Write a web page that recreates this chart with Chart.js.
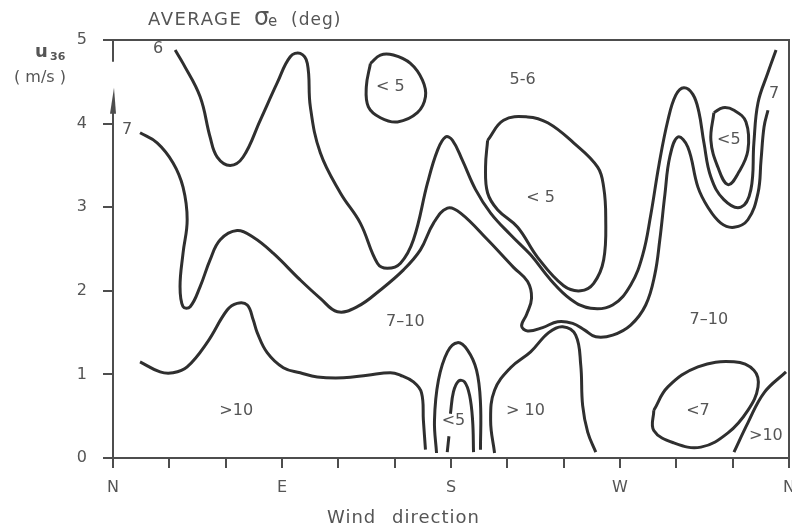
<!DOCTYPE html>
<html>
<head>
<meta charset="utf-8">
<script src="https://cdn.jsdelivr.net/npm/chart.js@4.4.0/dist/chart.umd.min.js"></script>
<style>
  html, body { margin: 0; padding: 0; background: #fff; }
  #wrap { width: 792px; height: 528px; }
</style>
</head>
<body>
<div id="wrap"><canvas id="chart"></canvas></div>
<script>
// Contour lines of average sigma-e, points are [wind direction (deg), u36 (m/s)]
const line6 = [[33.1,4.88],[37.3,4.72],[46.4,4.32],[51.7,3.84],[55.5,3.60],[62.4,3.50],[69.3,3.60],[78.4,4.04],
  [87.5,4.49],[94.4,4.80],[99.7,4.84],[103.5,4.72],[105.1,4.20],[110.4,3.65],[121.1,3.17],[131.7,2.81],
  [140.8,2.33],[146.1,2.27],[153.1,2.33],[160.0,2.61],[167.5,3.29],[172.8,3.68],[177.1,3.84],[180.8,3.80],
  [186.1,3.56],[193.1,3.21],[201.1,2.93],[211.7,2.67],[222.4,2.43],[233.1,2.13],[243.7,1.90],[254.4,1.79],
  [266.1,1.83],[275.7,2.07],[282.1,2.43],[286.4,2.91],[290.7,3.50],[295.5,4.04],[299.7,4.34],[304.0,4.43],
  [308.8,4.35],[312.0,4.14],[314.7,3.77],[318.4,3.36],[325.3,3.09],[334.4,3.00],[339.7,3.21],[341.3,3.77],
  [343.5,4.25],[348.8,4.61],[353.1,4.88]];
const line7 = [[14.4,3.89],[23.5,3.77],[32.0,3.53],[37.3,3.24],[39.5,2.85],[37.3,2.45],[35.7,2.05],[37.3,1.81],
  [41.1,1.81],[46.4,2.05],[51.7,2.37],[57.1,2.61],[66.1,2.72],[74.7,2.64],[85.3,2.45],[99.7,2.13],[110.4,1.91],
  [119.5,1.75],[130.1,1.81],[142.4,2.01],[154.7,2.25],[163.7,2.49],[170.7,2.81],[178.1,2.99],[185.1,2.93],
  [199.5,2.61],[213.3,2.28],[220.8,2.11],[222.9,1.91],[220.3,1.72],[217.6,1.58],[220.8,1.52],[228.8,1.56],
  [236.8,1.63],[244.8,1.61],[251.2,1.53],[257.1,1.45],[266.1,1.47],[275.7,1.59],[283.7,1.83],[288.5,2.19],
  [291.2,2.61],[293.9,3.15],[296.5,3.60],[300.8,3.84],[306.1,3.72],[311.5,3.24],[316.8,3.00],[323.7,2.81],
  [330.7,2.76],[338.1,2.85],[343.5,3.17],[345.1,3.56],[346.7,3.96],[348.8,4.16]];
const line10West = [[14.4,1.15],[25.1,1.03],[32.0,1.02],[39.5,1.09],[50.1,1.38],[60.8,1.77],[66.1,1.85],
  [71.5,1.83],[74.7,1.65],[76.8,1.50],[82.1,1.26],[90.7,1.08],[99.7,1.02],[108.8,0.97],[122.7,0.96],
  [135.5,0.99],[147.7,1.02],[153.1,0.99],[160.0,0.91],[164.3,0.78],[165.3,0.45],[166.4,0.10]];
const archSouthOuter = [[172.3,0.06],[171.2,0.45],[173.3,0.93],[178.1,1.27],[183.5,1.38],[188.8,1.29],
  [193.6,1.05],[195.7,0.66],[195.7,0.10]];
const archSouthInner = [[179.7,0.53],[181.3,0.79],[184.0,0.92],[187.2,0.91],[189.9,0.75],[191.5,0.45],[192.0,0.07]];
const dashSouth = [[178.9,0.26],[178.0,0.07]];
const line10South = [[203.2,0.06],[201.1,0.45],[203.2,0.81],[211.7,1.08],[222.4,1.27],[232.0,1.50],
  [239.5,1.57],[246.4,1.47],[249.1,1.11],[250.1,0.63],[252.8,0.31],[257.1,0.07]];
const line10North = [[330.7,0.07],[338.1,0.42],[346.7,0.78],[358.4,1.03]];
// closed loops
const loopLt7 = [[288.0,0.57],[295.5,0.85],[311.5,1.09],[330.7,1.15],[341.3,1.05],[343.5,0.85],[338.1,0.57],
  [327.5,0.30],[313.1,0.13],[298.7,0.18],[288.0,0.33]];
const loopLt5Top = [[137.1,4.72],[142.4,4.82],[149.3,4.82],[158.4,4.72],[164.8,4.52],[166.4,4.32],
  [162.1,4.13],[151.5,4.02],[142.4,4.07],[136.0,4.20],[134.9,4.44]];
const loopLt5Mid = [[199.5,3.80],[208.0,4.04],[220.8,4.08],[231.5,4.01],[245.3,3.77],[258.1,3.48],[261.3,3.24],
  [262.4,2.88],[261.3,2.37],[256.0,2.09],[249.0,2.00],[240.0,2.06],[226.1,2.40],[215.5,2.76],[204.8,2.97],
  [199.5,3.17],[198.4,3.48]];
const loopLt5West = [[320.0,4.13],[324.8,4.19],[330.7,4.16],[337.1,4.02],[338.1,3.68],[333.3,3.42],
  [327.5,3.27],[322.1,3.48],[318.4,3.80]];

// region labels
const regionText  = ['6', '7', '< 5', '5-6', '< 5', '7–10', '7–10', '>10', '<5', '> 10', '<7', '>10', '7', '<5'];
const regionDir   = [24.0, 7.5, 147.7, 218.1, 227.7, 155.7, 317.3, 65.6, 181.3, 219.7, 311.5, 347.7, 352.0, 328.0];
const regionSpeed = [4.90, 3.92, 4.44, 4.52, 3.11, 1.63, 1.65, 0.57, 0.44, 0.57, 0.57, 0.26, 4.35, 3.80];

// axis ticks
const compassTicks = { 0: 'N', 90: 'E', 180: 'S', 270: 'W', 360: 'N' };
const axisGap = [4.74, 4.43];   // break in the speed axis, arrow tip at the lower value

const INK = '#2f2f2f';
const AXIS = '#4d4d4d';
const TEXT = '#555';
const FONT = '"DejaVu Sans", sans-serif';

function closeLoop(pts) {
  return pts.concat([pts[0]]);
}

function toXY(pts) {
  return pts.map(p => ({ x: p[0], y: p[1] }));
}

const contours = [line6, line7, line10West, archSouthOuter, archSouthInner, dashSouth, line10South, line10North,
  closeLoop(loopLt7), closeLoop(loopLt5Top), closeLoop(loopLt5Mid), closeLoop(loopLt5West)];

const datasets = contours.map(pts => ({
  data: toXY(pts),
  showLine: true,
  borderColor: INK,
  borderWidth: 3,
  pointRadius: 0,
  pointHoverRadius: 0,
  tension: 0.4,
  fill: false
}));

const decor = {
  id: 'decor',
  afterDraw(chart) {
    const ctx = chart.ctx;
    const a = chart.chartArea;
    const x = chart.scales.x, y = chart.scales.y;
    ctx.save();

    // frame: top, right and the broken left axis
    ctx.strokeStyle = AXIS;
    ctx.lineWidth = 2;
    ctx.beginPath();
    ctx.moveTo(a.left - 7, a.top);
    ctx.lineTo(a.right, a.top);
    ctx.lineTo(a.right, a.bottom);
    ctx.moveTo(a.left, a.top);
    ctx.lineTo(a.left, y.getPixelForValue(axisGap[0]));
    ctx.moveTo(a.left, y.getPixelForValue(axisGap[1]) + 20);
    ctx.lineTo(a.left, a.bottom);
    ctx.stroke();

    // arrow head
    const tip = y.getPixelForValue(axisGap[1]);
    ctx.fillStyle = AXIS;
    ctx.beginPath();
    ctx.moveTo(a.left + 1, tip);
    ctx.lineTo(a.left + 3, tip + 26);
    ctx.lineTo(a.left - 3, tip + 26);
    ctx.closePath();
    ctx.fill();

    // region labels
    ctx.fillStyle = TEXT;
    ctx.font = '16px ' + FONT;
    ctx.textAlign = 'center';
    ctx.textBaseline = 'middle';
    regionText.forEach((t, i) => {
      ctx.fillText(t, x.getPixelForValue(regionDir[i]), y.getPixelForValue(regionSpeed[i]));
    });

    // title
    ctx.textAlign = 'left';
    ctx.textBaseline = 'alphabetic';
    ctx.letterSpacing = '1.5px';
    ctx.font = '18px ' + FONT;
    ctx.fillText('AVERAGE', 148, 25);
    ctx.letterSpacing = '0px';
    ctx.font = '24px ' + FONT;
    ctx.fillText('σ', 254, 25);
    ctx.font = '15px ' + FONT;
    ctx.fillText('e', 268, 26);
    ctx.letterSpacing = '1px';
    ctx.font = '17px ' + FONT;
    ctx.fillText('(deg)', 291, 25);

    // speed axis title
    ctx.letterSpacing = '0px';
    ctx.font = 'bold 18px ' + FONT;
    ctx.fillText('u', 35, 57);
    ctx.font = 'bold 11px ' + FONT;
    ctx.fillText('36', 50, 60);
    ctx.font = '16px ' + FONT;
    ctx.textAlign = 'right';
    ctx.fillText('( m/s )', 66, 82);

    // direction axis title
    ctx.textAlign = 'left';
    ctx.letterSpacing = '1px';
    ctx.font = '18px ' + FONT;
    ctx.fillText('Wind', 327, 523);
    ctx.fillText('direction', 392, 523);

    ctx.restore();
  }
};

new Chart(document.getElementById('chart'), {
  type: 'scatter',
  data: { datasets: datasets },
  options: {
    responsive: true,
    maintainAspectRatio: false,
    animation: false,
    events: [],
    layout: { padding: { left: 0, top: 40, right: 3, bottom: 0 } },
    plugins: {
      legend: { display: false },
      tooltip: { enabled: false },
      title: { display: false }
    },
    scales: {
      x: {
        type: 'linear',
        min: 0,
        max: 360,
        afterFit: s => { s.height = 70; s.paddingLeft = 0; s.paddingRight = 0; },
        afterBuildTicks: s => { s.ticks = [0, 30, 60, 90, 120, 150, 180, 210, 240, 270, 300, 330, 360].map(v => ({ value: v })); },
        border: { display: true, color: AXIS, width: 2 },
        grid: { drawOnChartArea: false, color: AXIS, lineWidth: 2, tickLength: 10 },
        ticks: {
          autoSkip: false,
          maxRotation: 0,
          padding: 10,
          color: TEXT,
          font: { family: FONT, size: 16 },
          callback: v => compassTicks[v] || ''
        }
      },
      y: {
        type: 'linear',
        min: 0,
        max: 5,
        afterFit: s => { s.width = 113; s.paddingTop = 0; s.paddingBottom = 0; },
        border: { display: false },
        grid: { drawOnChartArea: false, color: AXIS, lineWidth: 2, tickLength: 10 },
        ticks: {
          stepSize: 1,
          padding: 16,
          color: TEXT,
          font: { family: FONT, size: 16 }
        }
      }
    }
  },
  plugins: [decor]
});
</script>
</body>
</html>
